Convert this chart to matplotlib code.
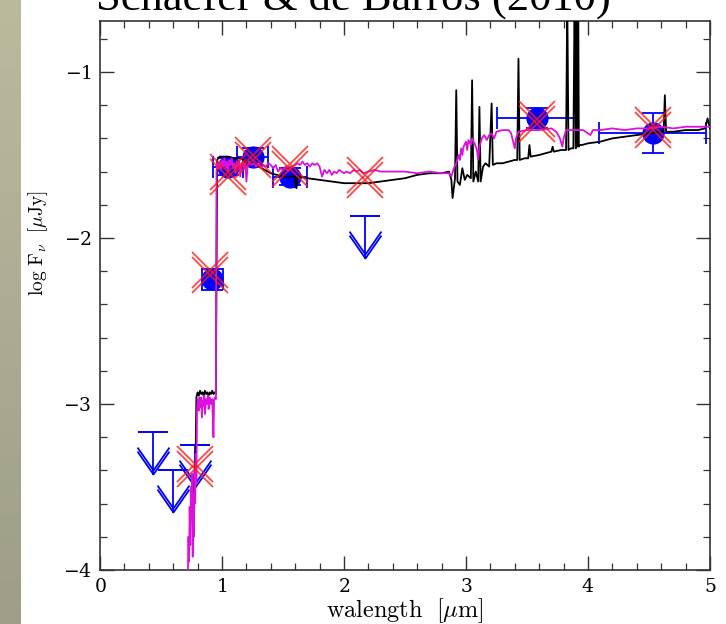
import numpy as np
import matplotlib
matplotlib.use('Agg')
import matplotlib.pyplot as plt
from matplotlib.transforms import offset_copy
from matplotlib.ticker import MultipleLocator

plt.rcParams['mathtext.fontset'] = 'cm'
plt.rcParams['font.family'] = ['DejaVu Serif']
plt.rcParams['axes.formatter.use_mathtext'] = True

# ---------------- data ----------------
det_x = [0.92, 1.05, 1.25, 1.56, 3.58, 4.53]
det_y = [-2.25, -1.57, -1.51, -1.63, -1.28, -1.37]
det_xerr = [0.085, 0.12, 0.13, 0.14, 0.33, 0.44]
det_yerr = [0.065, 0.05, 0.05, 0.05, 0.06, 0.12]

ul_x = [0.435, 0.60, 0.78, 2.17]
ul_y = [-3.17, -3.40, -3.25, -1.87]
ul_tip = [-3.42, -3.65, -3.50, -2.12]

model_x = [0.78, 0.90, 1.05, 1.25, 1.56, 2.17, 3.58, 4.53]
model_y = [-3.38, -2.21, -1.62, -1.52, -1.57, -1.64, -1.30, -1.34]

blk_x = [0.76, 0.765, 0.77, 0.775, 0.78, 0.785, 0.79, 0.80, 0.81, 0.82, 0.83, 0.84,
         0.85, 0.86, 0.87, 0.88, 0.89, 0.90, 0.91, 0.92, 0.93, 0.94, 0.95, 0.955,
         0.96, 0.98, 1.00, 1.05, 1.10, 1.15, 1.20, 1.25, 1.30, 1.35, 1.40, 1.45,
         1.50, 1.55, 1.60, 1.605, 1.61, 1.62, 1.70, 1.80, 1.90, 2.00, 2.10, 2.20,
         2.30, 2.40, 2.50, 2.60, 2.70, 2.80, 2.86, 2.88, 2.89, 2.90, 2.91, 2.92,
         2.93, 2.95, 2.97, 2.99, 3.01, 3.04, 3.05, 3.06, 3.08, 3.10, 3.11, 3.12,
         3.14, 3.16, 3.19, 3.21, 3.22, 3.25, 3.30, 3.35, 3.40, 3.42, 3.43, 3.44,
         3.48, 3.51, 3.52, 3.53, 3.60, 3.70, 3.71, 3.72, 3.78, 3.82, 3.83, 3.84,
         3.86, 3.88, 3.89, 3.90, 3.905, 3.91, 3.92, 3.925, 3.93, 3.95, 4.00, 4.10,
         4.20, 4.30, 4.40, 4.50, 4.60, 4.62, 4.63, 4.64, 4.70, 4.80, 4.90, 4.96,
         4.98, 5.00]
blk_y = [-3.55, -3.44, -3.52, -3.42, -3.47, -3.25, -2.96, -2.93, -2.95, -2.92, -2.94, -2.93,
         -2.95, -2.92, -2.94, -2.93, -2.95, -2.93, -2.94, -2.92, -2.94, -2.93, -2.94, -2.20,
         -1.53, -1.51, -1.51, -1.51, -1.52, -1.52, -1.54, -1.55, -1.57, -1.59, -1.61, -1.62,
         -1.63, -1.63, -1.63, -1.69, -1.70, -1.63, -1.64, -1.65, -1.66, -1.67, -1.67, -1.67,
         -1.66, -1.65, -1.64, -1.62, -1.61, -1.61, -1.60, -1.65, -1.76, -1.70, -1.64, -1.11,
         -1.66, -1.68, -1.58, -1.65, -1.62, -1.64, -1.05, -1.66, -1.60, -1.66, -1.21, -1.66,
         -1.57, -1.55, -1.57, -1.19, -1.56, -1.55, -1.55, -1.54, -1.53, -1.53, -0.92, -1.53,
         -1.52, -1.52, -1.44, -1.51, -1.50, -1.48, -1.45, -1.48, -1.47, -1.47, -0.55, -1.47,
         -1.46, -1.46, -0.55, -1.46, -0.50, -1.45, -0.55, -1.45, -1.44, -1.44, -1.43, -1.42,
         -1.40, -1.39, -1.38, -1.37, -1.36, -1.36, -1.14, -1.36, -1.36, -1.35, -1.35, -1.34,
         -1.28, -1.34]

mag_x = [0.72, 0.725, 0.73, 0.735, 0.74, 0.745, 0.75, 0.755, 0.76, 0.765, 0.77, 0.775,
         0.78, 0.785, 0.79, 0.795, 0.80, 0.81, 0.815, 0.82, 0.83, 0.835, 0.84, 0.85,
         0.855, 0.86, 0.87, 0.88, 0.885, 0.89, 0.90, 0.91, 0.92, 0.925, 0.93, 0.935,
         0.94, 0.95, 0.955, 0.96, 0.97, 0.98, 0.99, 1.00, 1.01, 1.02, 1.03, 1.04,
         1.05, 1.06, 1.07, 1.08, 1.09, 1.10, 1.11, 1.12, 1.13, 1.14, 1.15, 1.16,
         1.17, 1.18, 1.19, 1.20, 1.21, 1.22, 1.24, 1.26, 1.28, 1.30, 1.32, 1.34,
         1.36, 1.38, 1.40, 1.42, 1.44, 1.46, 1.48, 1.50, 1.52, 1.54, 1.56, 1.58,
         1.60, 1.62, 1.64, 1.66, 1.68, 1.70, 1.72, 1.74, 1.76, 1.78, 1.80, 1.82,
         1.84, 1.86, 1.88, 1.90, 1.92, 1.94, 1.96, 1.98, 2.00, 2.02, 2.05, 2.08,
         2.10, 2.13, 2.16, 2.20, 2.25, 2.30, 2.40, 2.50, 2.60, 2.70, 2.80, 2.86,
         2.88, 2.90, 2.92, 2.94, 2.95, 2.96, 2.97, 2.98, 3.00, 3.01, 3.02, 3.04,
         3.05, 3.07, 3.09, 3.10, 3.11, 3.13, 3.15, 3.17, 3.19, 3.21, 3.23, 3.25,
         3.30, 3.35, 3.37, 3.39, 3.40, 3.41, 3.43, 3.50, 3.60, 3.70, 3.74, 3.77,
         3.79, 3.80, 3.82, 3.90, 3.96, 4.00, 4.02, 4.04, 4.10, 4.20, 4.30, 4.40,
         4.50, 4.60, 4.70, 4.80, 4.90, 5.00]
mag_y = [-4.05, -3.80, -3.95, -3.62, -3.85, -3.50, -3.70, -3.42, -3.92, -3.55, -3.80, -3.40,
         -3.60, -3.30, -3.48, -3.05, -2.97, -3.04, -2.96, -3.02, -2.96, -3.08, -2.98, -3.01,
         -2.95, -3.06, -2.97, -3.00, -2.95, -3.03, -2.96, -3.00, -2.97, -3.10, -3.20, -2.98,
         -2.96, -2.97, -1.60, -1.55, -1.58, -1.54, -1.59, -1.53, -1.57, -1.52, -1.58, -1.54,
         -1.60, -1.53, -1.56, -1.52, -1.58, -1.55, -1.61, -1.54, -1.57, -1.53, -1.63, -1.56,
         -1.54, -1.58, -1.55, -1.66, -1.57, -1.54, -1.56, -1.55, -1.57, -1.55, -1.58, -1.56,
         -1.57, -1.55, -1.56, -1.58, -1.56, -1.60, -1.58, -1.59, -1.57, -1.60, -1.58, -1.57,
         -1.56, -1.55, -1.56, -1.54, -1.56, -1.55, -1.57, -1.55, -1.56, -1.55, -1.57, -1.63,
         -1.59, -1.61, -1.59, -1.62, -1.60, -1.61, -1.59, -1.60, -1.61, -1.60, -1.61, -1.59,
         -1.60, -1.59, -1.61, -1.60, -1.59, -1.60, -1.60, -1.60, -1.61, -1.60, -1.61, -1.61,
         -1.63, -1.58, -1.55, -1.50, -1.53, -1.46, -1.50, -1.45, -1.42, -1.47, -1.41, -1.44,
         -1.40, -1.43, -1.47, -1.53, -1.45, -1.40, -1.38, -1.41, -1.38, -1.37, -1.40, -1.36,
         -1.35, -1.35, -1.37, -1.43, -1.46, -1.40, -1.36, -1.35, -1.35, -1.34, -1.36, -1.40,
         -1.45, -1.40, -1.35, -1.35, -1.35, -1.37, -1.38, -1.35, -1.35, -1.34, -1.35, -1.34,
         -1.34, -1.33, -1.34, -1.33, -1.33, -1.33]

title_text = "Schaefer & de Barros (2010)"
xlabel_text = r"$\mathrm{walength\ \ [\mu m]}$"
ylabel_text = r"$\mathrm{log\ F_{\nu}\ \ [\mu Jy]}$"

# ---------------- figure ----------------
fig = plt.figure(figsize=(7.26, 6.24), dpi=100)

# left decorative strip
strip = fig.add_axes([0, 0, 21 / 726, 1])
grad = np.linspace(0, 1, 256).reshape(-1, 1)
c_top = np.array([186, 187, 157]) / 255
c_bot = np.array([158, 158, 136]) / 255
img = c_top[None, None, :] * (1 - grad[:, :, None]) + c_bot[None, None, :] * grad[:, :, None]
strip.imshow(img, aspect='auto', extent=[0, 1, 0, 1])
strip.set_axis_off()

ax = fig.add_axes([100 / 726, 1 - 570 / 624, 610 / 726, (570 - 21) / 624])
ax.set_xlim(0, 5)
ax.set_ylim(-4, -0.693)

blue = '#0000ff'
red = '#ff1a1a'
mag = '#dd11dd'

# detections
ax.errorbar(det_x, det_y, xerr=det_xerr, yerr=det_yerr, fmt='o', ms=15,
            color=blue, ecolor=blue, elinewidth=1.3, capsize=8, capthick=1.3, zorder=3)

# upper limits
for x, y, t in zip(ul_x, ul_y, ul_tip):
    ax.plot([x, x], [y, t], color=blue, lw=1.3, zorder=3)
ax.plot(ul_x, ul_y, ls='none', marker='_', ms=22, mew=1.4, color=blue, zorder=3)
vmark = [(-16, 23), (0, 0), (16, 23)]
for dy in (0, 4):
    tr = offset_copy(ax.transData, fig=fig, x=0, y=dy, units='dots')
    ax.plot(ul_x, ul_tip, ls='none', marker=vmark, ms=33, mew=1.3,
            mec=blue, mfc='none', transform=tr, zorder=3)

# spectra
ax.plot(blk_x, blk_y, color='black', lw=1.3, zorder=4)
ax.plot(mag_x, mag_y, color=mag, lw=1.3, zorder=5)

# model photometry
for dy in (-2, 3):
    tr = offset_copy(ax.transData, fig=fig, x=0, y=dy, units='dots')
    ax.plot(model_x, model_y, ls='none', marker='x', ms=26, mew=1.3,
            color=red, alpha=0.8, transform=tr, zorder=6)

# axes styling
ax.xaxis.set_major_locator(MultipleLocator(1))
ax.xaxis.set_minor_locator(MultipleLocator(0.2))
ax.yaxis.set_major_locator(MultipleLocator(1))
ax.yaxis.set_minor_locator(MultipleLocator(0.2))
ax.tick_params(which='both', direction='in', top=True, right=True, color='#333333')
ax.tick_params(which='major', length=10, width=1.0, labelsize=13.5, pad=6)
ax.tick_params(which='minor', length=5, width=0.9)
for s in ax.spines.values():
    s.set_color('#333333')
    s.set_linewidth(1.2)

ax.set_xlabel(xlabel_text, fontsize=17.5, labelpad=0)
ax.set_ylabel(ylabel_text, fontsize=14)
ax.yaxis.set_label_coords(-0.082, 0.596)

fig.text(96 / 726, 1 - 10 / 624, title_text, fontsize=32, family='Liberation Serif',
         va='baseline', ha='left')

fig.savefig('out.png', dpi=100)
